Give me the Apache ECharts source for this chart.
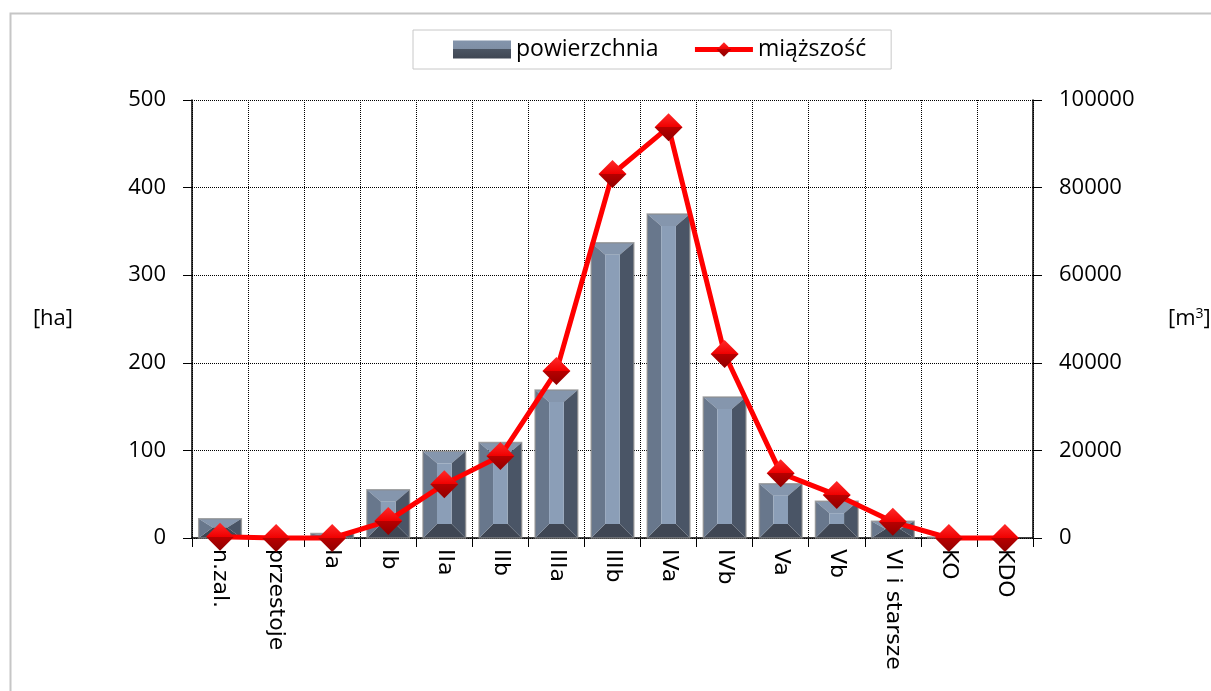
<!DOCTYPE html>
<html>
<head>
<meta charset="utf-8">
<script src="https://cdn.jsdelivr.net/npm/echarts@6/dist/echarts.min.js"></script>
<style>
  html, body { margin: 0; padding: 0; background: #fff; }
  #chart { width: 1211px; height: 691px; }
</style>
</head>
<body>
<div id="chart"></div>
<script>
// kategorie (klasy wieku)
const categories = ['n.zal.', 'przestoje', 'Ia', 'Ib', 'IIa', 'IIb', 'IIIa', 'IIIb', 'IVa', 'IVb', 'Va', 'Vb', 'VI i starsze', 'KO', 'KDO'];
// powierzchnia [ha]
const powierzchnia = [22, 0, 5, 55, 99, 109, 169, 337, 370, 161, 62, 42, 19, 1, 0];
// miąższość [m3]
const miazszosc = [300, 0, 0, 3900, 12300, 18700, 38100, 83100, 93800, 42000, 14800, 9800, 3700, 0, 0];
const leftTicks = [0, 100, 200, 300, 400, 500];
const rightTicks = [0, 20000, 40000, 60000, 80000, 100000];

const chart = echarts.init(document.getElementById('chart'));

// słupek z fazowaniem (efekt 3D jak w Excelu)
function renderBevelBar(params, api) {
  const cat = api.value(0);
  const val = api.value(1);
  const top = api.coord([cat, val]);
  const base = api.coord([cat, 0]);
  const bw = api.size([1, 0])[0] * 0.76;
  const l = top[0] - bw / 2, r = top[0] + bw / 2;
  const t = top[1], b = base[1];
  const h = b - t;
  if (h <= 0.5) return null;
  const bx = Math.min(14, bw / 2 - 1);
  let bt = 12, bb = 14;
  if (bt + bb > h) { const s = h / (bt + bb); bt *= s; bb *= s; }
  const poly = (pts, fill) => ({ type: 'polygon', shape: { points: pts }, style: { fill: fill } });
  return {
    type: 'group',
    children: [
      poly([[l, t], [r, t], [r - bx, t + bt], [l + bx, t + bt]], '#8596ad'),
      poly([[l, b], [r, b], [r - bx, b - bb], [l + bx, b - bb]], '#3f4653'),
      poly([[l, t], [l + bx, t + bt], [l + bx, b - bb], [l, b]], '#68778c'),
      poly([[r, t], [r - bx, t + bt], [r - bx, b - bb], [r, b]], '#4a5566'),
      { type: 'rect', shape: { x: l + bx, y: t + bt, width: Math.max(0, bw - 2 * bx), height: Math.max(0, h - bt - bb) }, style: { fill: '#8b9eb7' } },
      { type: 'rect', shape: { x: l, y: t, width: bw, height: h }, style: { fill: 'none', stroke: 'rgba(140,140,140,0.75)', lineWidth: 1.5 } }
    ]
  };
}

const barLegendColor = new echarts.graphic.LinearGradient(0, 0, 0, 1, [
  { offset: 0, color: '#8394ab' }, { offset: 0.5, color: '#7f8fa5' },
  { offset: 0.5, color: '#4b5462' }, { offset: 1, color: '#3f4653' }
]);
const diamondColor = new echarts.graphic.LinearGradient(0, 0, 0, 1, [
  { offset: 0, color: '#ff2a2a' }, { offset: 0.5, color: '#f00000' },
  { offset: 0.5, color: '#b80000' }, { offset: 1, color: '#900000' }
]);

const option = {
  backgroundColor: '#fff',
  animation: false,
  graphic: [{
    type: 'rect',
    shape: { x: 10.5, y: 13.5, width: 1400, height: 800 },
    style: { fill: 'none', stroke: '#c6c6c6', lineWidth: 2 },
    silent: true
  }],
  legend: {
    left: 413,
    top: 30,
    padding: [8, 25, 8, 40],
    itemGap: 34,
    itemWidth: 58,
    itemHeight: 18,
    borderColor: '#c8c8c8',
    borderWidth: 1,
    textStyle: { fontFamily: 'Open Sans', fontSize: 23, color: '#000' },
    data: [
      { name: 'powierzchnia', icon: 'rect', itemStyle: { color: barLegendColor } },
      { name: 'miąższość', lineStyle: { width: 5, color: '#ff0000' } }
    ]
  },
  grid: { left: 192, right: 178, top: 100, bottom: 153, outerBoundsMode: 'none', containLabel: false },
  xAxis: {
    type: 'category',
    data: categories,
    axisLine: { lineStyle: { color: '#000', width: 1.5 } },
    axisTick: { show: true, length: 9, lineStyle: { color: '#000' } },
    axisLabel: {
      interval: 0,
      rotate: -90,
      margin: 11,
      fontFamily: 'DejaVu Sans',
      fontSize: 22,
      color: '#000'
    },
    splitLine: { show: true, interval: 0, lineStyle: { color: '#000', type: 'dotted', width: 1 } }
  },
  yAxis: [
    {
      type: 'value',
      min: 0,
      max: 500,
      interval: 100,
      name: '[ha]',
      nameLocation: 'middle',
      nameRotate: 0,
      nameGap: 119,
      nameTextStyle: { fontFamily: 'Open Sans', fontSize: 22, color: '#000' },
      axisLine: { show: true, lineStyle: { color: '#000', width: 1.5 } },
      axisTick: { show: true, length: 9, lineStyle: { color: '#000' } },
      axisLabel: { margin: 26, fontFamily: 'Open Sans', fontSize: 22, color: '#000',
        formatter: v => leftTicks.includes(v) ? String(v) : '' },
      splitLine: { show: true, lineStyle: { color: '#000', type: 'dotted', width: 1 } }
    },
    {
      type: 'value',
      min: 0,
      max: 100000,
      interval: 20000,
      name: '[m{s|3}]',
      nameLocation: 'middle',
      nameRotate: 0,
      nameGap: 135,
      nameTextStyle: {
        fontFamily: 'Open Sans', fontSize: 22, color: '#000',
        rich: { s: { fontFamily: 'Open Sans', fontSize: 14, color: '#000', verticalAlign: 'top', padding: [0, 0, 10, 0] } }
      },
      axisLine: { show: true, lineStyle: { color: '#000', width: 1.5 } },
      axisTick: { show: true, length: 9, lineStyle: { color: '#000' } },
      axisLabel: { margin: 26, fontFamily: 'Open Sans', fontSize: 22, color: '#000',
        formatter: v => rightTicks.includes(v) ? String(v) : '' },
      splitLine: { show: false }
    }
  ],
  series: [
    {
      name: 'powierzchnia',
      type: 'custom',
      renderItem: renderBevelBar,
      itemStyle: { color: barLegendColor },
      data: powierzchnia.map((v, i) => [i, v]),
      encode: { x: 0, y: 1 },
      z: 2
    },
    {
      name: 'miąższość',
      type: 'line',
      yAxisIndex: 1,
      data: miazszosc,
      clip: false,
      symbol: 'diamond',
      symbolSize: 28,
      lineStyle: { color: '#ff0000', width: 5 },
      itemStyle: { color: diamondColor, borderWidth: 0 },
      z: 3
    }
  ]
};

chart.setOption(option);
</script>
</body>
</html>
